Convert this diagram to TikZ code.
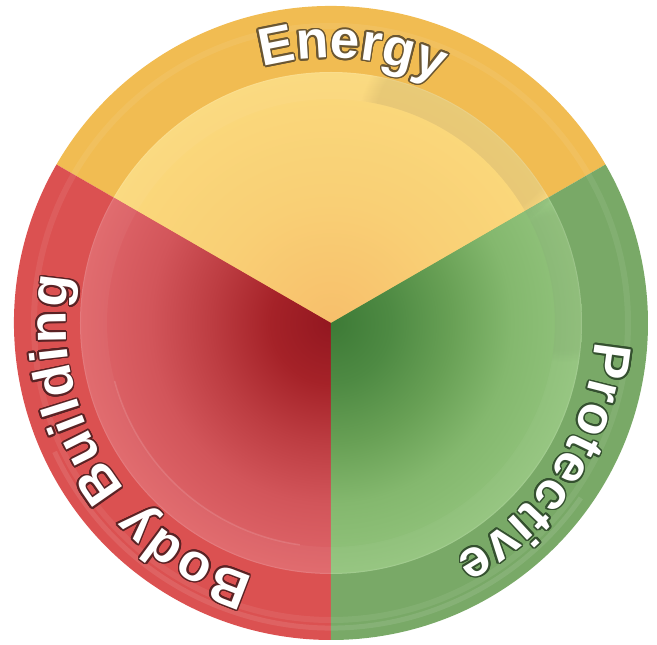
\documentclass[tikz,border=0pt]{standalone}
\usepackage{fontspec}
\usetikzlibrary{decorations.text,fadings}
\newfontfamily\lblfamily{Liberation Sans}
\newcommand\lblfont{\lblfamily\bfseries\fontsize{53}{53}\selectfont}

\definecolor{yRing}{HTML}{F1BC52}
\definecolor{yEdge}{HTML}{FAD97C}
\definecolor{yMid}{HTML}{F9CF75}
\definecolor{yCenter}{HTML}{F7BF6B}
\definecolor{rRing}{HTML}{DB5151}
\definecolor{rEdge}{HTML}{E0666A}
\definecolor{rM3}{HTML}{D2555A}
\definecolor{rM2}{HTML}{BD3D42}
\definecolor{rM1}{HTML}{A52228}
\definecolor{rCenter}{HTML}{931720}
\definecolor{gRing}{HTML}{79A967}
\definecolor{gEdge}{HTML}{93C47D}
\definecolor{gM3}{HTML}{84B86E}
\definecolor{gM2}{HTML}{68A055}
\definecolor{gM1}{HTML}{4E8A43}
\definecolor{gCenter}{HTML}{3D7A36}
\definecolor{outY}{HTML}{6A5632}
\definecolor{outR}{HTML}{5A2224}
\definecolor{outG}{HTML}{34502F}

\pgfdeclareradialshading{yshade}{\pgfpoint{0bp}{0bp}}{color(0bp)=(yCenter); color(12bp)=(yMid); color(25bp)=(yEdge); color(50bp)=(yEdge)}
\pgfdeclareradialshading{rshade}{\pgfpoint{0bp}{0bp}}{color(0bp)=(rCenter); color(6bp)=(rM1); color(12bp)=(rM2); color(18bp)=(rM3); color(25bp)=(rEdge); color(50bp)=(rEdge)}
\pgfdeclareradialshading{gshade}{\pgfpoint{0bp}{0bp}}{color(0bp)=(gCenter); color(6bp)=(gM1); color(12bp)=(gM2); color(18bp)=(gM3); color(25bp)=(gEdge); color(50bp)=(gEdge)}

\newcommand\ringlabel[4]{%
  \foreach \dr/\da in {1.6/0,-1.6/0,0/0.35,0/-0.35,1.13/0.245,1.13/-0.245,-1.13/0.245,-1.13/-0.245,1.5/0.13,1.5/-0.13,-1.5/0.13,-1.5/-0.13,0.6/0.32,0.6/-0.32,-0.6/0.32,-0.6/-0.32}{%
    \pgfmathsetmacro\sa{#2+\da}\pgfmathsetmacro\ea{#3+\da}%
    \path[decorate,decoration={text along path,raise=\dr pt,text={|\lblfont\color{#4}|#1},text align={fit to path}}]
      (\sa:265) arc[start angle=\sa,end angle=\ea,radius=265pt];
  }
  \path[decorate,decoration={text along path,text={|\lblfont\color{white}|#1},text align={fit to path}}]
    (#2:265) arc[start angle=#2,end angle=#3,radius=265pt];
}

\begin{document}
\begin{tikzpicture}[x=1pt,y=1pt]
\useasboundingbox (-331,-322) rectangle (326,323);
% outer ring sectors
\fill[yRing] (0,0) -- (30:317) arc[start angle=30,end angle=150,radius=317pt] -- cycle;
\fill[rRing] (0,0) -- (150:317) arc[start angle=150,end angle=270,radius=317pt] -- cycle;
\fill[gRing] (0,0) -- (270:317) arc[start angle=270,end angle=390,radius=317pt] -- cycle;
% outer ring reflection
\draw[white,opacity=0.07,line width=6pt] (0,0) circle[radius=297pt];
\draw[white,opacity=0.10,line width=5pt] (205:305) arc[start angle=205,end angle=325,radius=305pt];
% inner discs
\begin{scope}
  \clip (0,0) -- (30:300) arc[start angle=30,end angle=150,radius=300pt] -- cycle;
  \shade[shading=yshade] (0,0) circle[radius=251pt];
\end{scope}
\begin{scope}
  \clip (0,0) -- (150:300) arc[start angle=150,end angle=270,radius=300pt] -- cycle;
  \shade[shading=rshade] (0,0) circle[radius=251pt];
\end{scope}
\begin{scope}
  \clip (0,0) -- (270:300) arc[start angle=270,end angle=390,radius=300pt] -- cycle;
  \shade[shading=gshade] (0,0) circle[radius=251pt];
\end{scope}
% inner rim band
\fill[white,opacity=0.04,even odd rule] (0,0) circle[radius=251pt] circle[radius=224pt];
\begin{scope}[even odd rule]
  \clip (0,0) circle[radius=251pt] circle[radius=224pt];
  \fill[black,opacity=0.07,path fading=circle with fuzzy edge 15 percent] (55:237) circle[radius=110pt];
  \fill[black,opacity=0.04,path fading=circle with fuzzy edge 15 percent] (10:237) circle[radius=80pt];
\end{scope}
\draw[white,opacity=0.12,line width=1.5pt] (195:224) arc[start angle=195,end angle=262,radius=224pt];
\draw[white,opacity=0.10,line width=1pt] (0,0) circle[radius=250.5pt];
% labels
\ringlabel{Energy}{105}{66}{outY}
\ringlabel{Protective}{-4}{-62}{outG}
\ringlabel{Body Building}{253}{170}{outR}
\end{tikzpicture}
\end{document}
